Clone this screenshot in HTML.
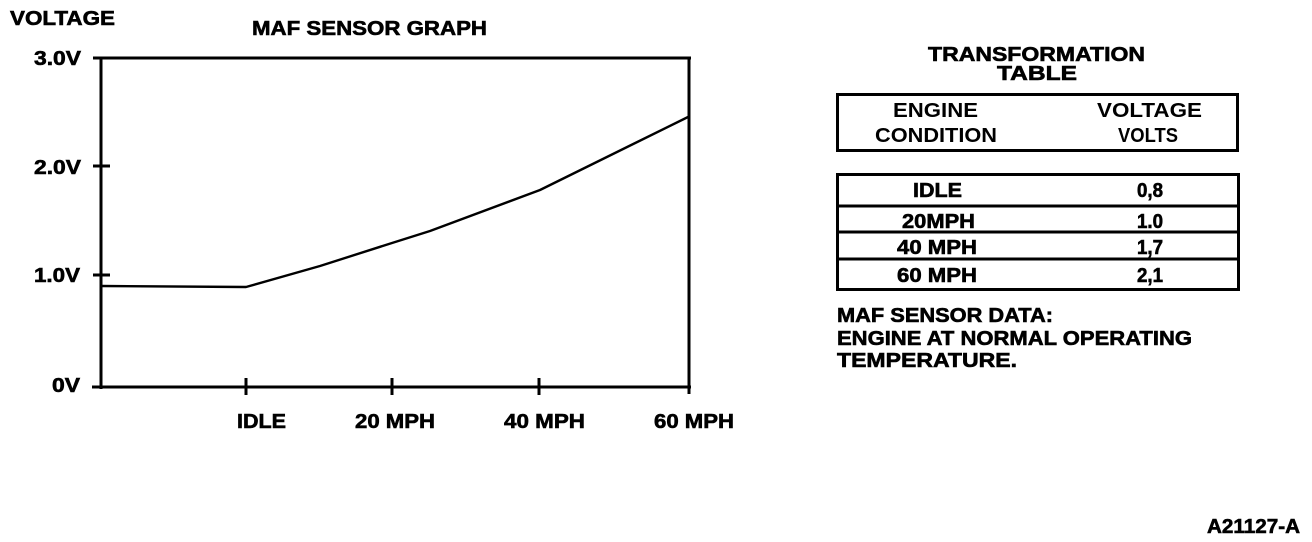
<!DOCTYPE html>
<html>
<head>
<meta charset="utf-8">
<style>
html,body{margin:0;padding:0;background:#fff;}
body{width:1312px;height:542px;overflow:hidden;}
svg{display:block;}
text{font-family:"Liberation Sans",Arial,sans-serif;font-weight:bold;fill:#000;}
.h{stroke:#000;stroke-width:0.6px;}
</style>
</head>
<body>
<svg width="1312" height="542" viewBox="0 0 1312 542" xmlns="http://www.w3.org/2000/svg">
  <!-- Chart labels -->
  <text class="h" x="10" y="25" font-size="20" textLength="105" lengthAdjust="spacingAndGlyphs">VOLTAGE</text>
  <text class="h" x="252" y="35" font-size="20" textLength="235" lengthAdjust="spacingAndGlyphs">MAF SENSOR GRAPH</text>

  <text class="h" x="34" y="65" font-size="20" textLength="47" lengthAdjust="spacingAndGlyphs">3.0V</text>
  <text class="h" x="34" y="174" font-size="20" textLength="47" lengthAdjust="spacingAndGlyphs">2.0V</text>
  <text class="h" x="34" y="282" font-size="20" textLength="46" lengthAdjust="spacingAndGlyphs">1.0V</text>
  <text class="h" x="52" y="392" font-size="20" textLength="28" lengthAdjust="spacingAndGlyphs">0V</text>

  <text class="h" x="237" y="428" font-size="20" textLength="49" lengthAdjust="spacingAndGlyphs">IDLE</text>
  <text class="h" x="355" y="428" font-size="20" textLength="80" lengthAdjust="spacingAndGlyphs">20 MPH</text>
  <text class="h" x="504" y="428" font-size="20" textLength="81" lengthAdjust="spacingAndGlyphs">40 MPH</text>
  <text class="h" x="654" y="428" font-size="20" textLength="80" lengthAdjust="spacingAndGlyphs">60 MPH</text>

  <!-- Axes / frame -->
  <g stroke="#000" stroke-width="3" fill="none" stroke-linecap="butt">
    <line x1="93" y1="58" x2="691" y2="58"/>
    <line x1="101" y1="56.5" x2="101" y2="389"/>
    <line x1="689" y1="56.5" x2="689" y2="394"/>
    <line x1="92" y1="387" x2="691" y2="387"/>
    <!-- y ticks -->
    <line x1="93" y1="166" x2="110" y2="166"/>
    <line x1="93" y1="275" x2="110" y2="275"/>
    <!-- x ticks -->
    <line x1="246" y1="378" x2="246" y2="395"/>
    <line x1="392" y1="378" x2="392" y2="395"/>
    <line x1="539" y1="378" x2="539" y2="395"/>
  </g>

  <!-- Data line -->
  <polyline points="101,286 246,287 320,266 392,243 430,231 540,190 688,117" fill="none" stroke="#000" stroke-width="2.4" stroke-linejoin="round"/>

  <!-- Table title -->
  <text class="h" x="928" y="61" font-size="20" textLength="217" lengthAdjust="spacingAndGlyphs">TRANSFORMATION</text>
  <text class="h" x="997" y="80" font-size="20" textLength="80" lengthAdjust="spacingAndGlyphs">TABLE</text>

  <!-- Header box -->
  <rect x="837.5" y="94.5" width="400" height="56" fill="none" stroke="#000" stroke-width="3"/>
  <text x="893" y="117" font-size="20" textLength="85" lengthAdjust="spacingAndGlyphs">ENGINE</text>
  <text x="875" y="142" font-size="20" textLength="122" lengthAdjust="spacingAndGlyphs">CONDITION</text>
  <text x="1097" y="117" font-size="20" textLength="105" lengthAdjust="spacingAndGlyphs">VOLTAGE</text>
  <text x="1118" y="142" font-size="20" textLength="60" lengthAdjust="spacingAndGlyphs">VOLTS</text>

  <!-- Data box -->
  <rect x="837.5" y="174.5" width="401" height="115" fill="none" stroke="#000" stroke-width="3"/>
  <g stroke="#000" stroke-width="3">
    <line x1="837" y1="206" x2="1239" y2="206"/>
    <line x1="837" y1="232" x2="1239" y2="232"/>
    <line x1="837" y1="259" x2="1239" y2="259"/>
  </g>
  <text class="h" x="913" y="197" font-size="20" textLength="49" lengthAdjust="spacingAndGlyphs">IDLE</text>
  <text class="h" x="1137" y="197" font-size="20" textLength="26" lengthAdjust="spacingAndGlyphs">0,8</text>
  <text class="h" x="902" y="228" font-size="20" textLength="73" lengthAdjust="spacingAndGlyphs">20MPH</text>
  <text class="h" x="1137" y="228" font-size="20" textLength="26" lengthAdjust="spacingAndGlyphs">1.0</text>
  <text class="h" x="897" y="254" font-size="20" textLength="80" lengthAdjust="spacingAndGlyphs">40 MPH</text>
  <text class="h" x="1137" y="254" font-size="20" textLength="26" lengthAdjust="spacingAndGlyphs">1,7</text>
  <text class="h" x="897" y="282" font-size="20" textLength="80" lengthAdjust="spacingAndGlyphs">60 MPH</text>
  <text class="h" x="1137" y="282" font-size="20" textLength="26" lengthAdjust="spacingAndGlyphs">2,1</text>

  <!-- Notes -->
  <text class="h" x="837" y="322" font-size="20" textLength="216" lengthAdjust="spacingAndGlyphs">MAF SENSOR DATA:</text>
  <text class="h" x="837" y="345" font-size="20" textLength="355" lengthAdjust="spacingAndGlyphs">ENGINE AT NORMAL OPERATING</text>
  <text class="h" x="837" y="367" font-size="20" textLength="180" lengthAdjust="spacingAndGlyphs">TEMPERATURE.</text>

  <!-- Figure code -->
  <text class="h" x="1207" y="533" font-size="20" textLength="93" lengthAdjust="spacingAndGlyphs">A21127-A</text>
</svg>
</body>
</html>
